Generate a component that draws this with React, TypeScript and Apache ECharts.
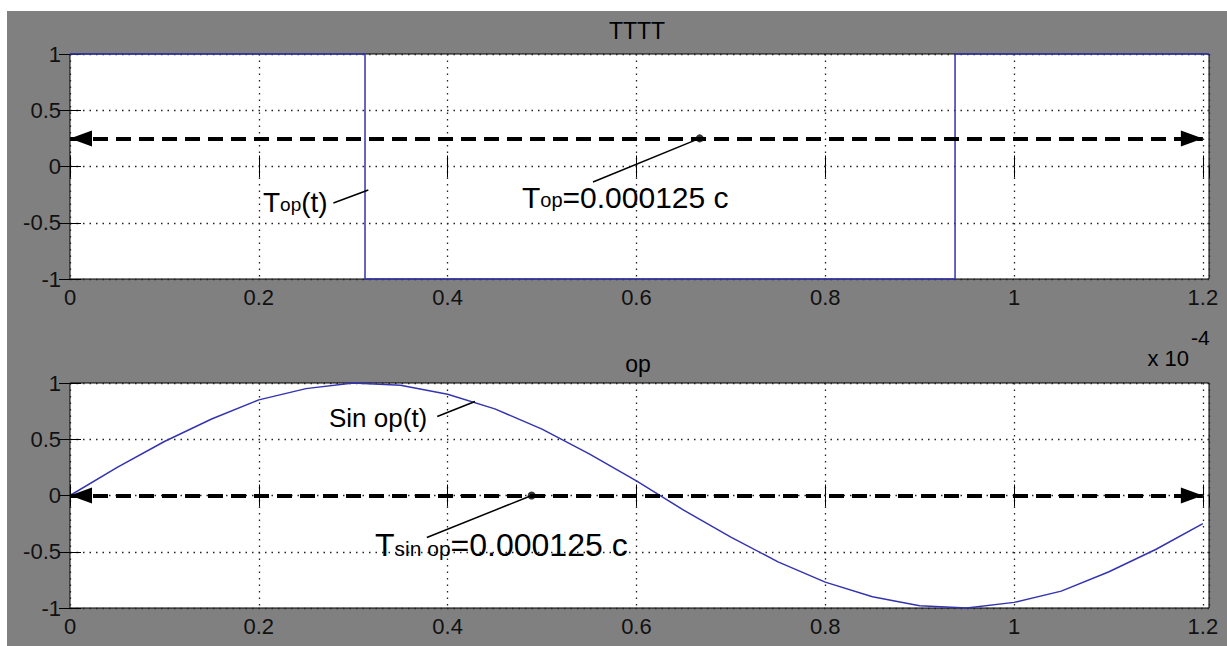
import React, { useEffect, useRef } from "react";
import * as echarts from "echarts";

// ---- data (x in units of 1e-4 s) ----
const squareX = [0, 0.3125, 0.3125, 0.9375, 0.9375, 1.2065];
const squareY = [1, 1, -1, -1, 1, 1];

const sineX = [0, 0.05, 0.1, 0.15, 0.2, 0.25, 0.3, 0.35, 0.4, 0.45, 0.5, 0.55, 0.6, 0.65, 0.7, 0.75, 0.8, 0.85, 0.9, 0.95, 1.0, 1.05, 1.1, 1.15, 1.2];
const sineY = [0, 0.25, 0.48, 0.68, 0.85, 0.95, 1.0, 0.98, 0.9, 0.77, 0.59, 0.37, 0.13, -0.13, -0.37, -0.59, -0.77, -0.9, -0.98, -1.0, -0.95, -0.85, -0.68, -0.48, -0.25];

const xTickLabels = ["0", "0.2", "0.4", "0.6", "0.8", "1", "1.2"];
const yTickLabels = ["-1", "-0.5", "0", "0.5", "1"];

const topArrow = { y: 0.25, from: 0, to: 1.2 };
const bottomArrow = { y: 0, from: 0, to: 1.2 };
const topDot = [0.667, 0.25];
const bottomDot = [0.489, 0];
const topLeader = [[0.667, 0.25], [0.554, -0.138]];
const topLabelLeader = [[0.279, -0.324], [0.316, -0.209]];
const bottomLeader = [[0.489, 0], [0.378, -0.373]];
const sinLeader = [[0.389, 0.702], [0.429, 0.836]];

const titles = ["TTTT", "op"];

const BLUE = "#3434b0";
const FONT = "'Liberation Sans', Arial, sans-serif";
// solid triangular head whose tip sits at the centre of its symbol box
const ARROW_HEAD = "path://M0,-22 M0,0 L8,22 L-8,22 Z";

function fmtX(v: number): string {
  const k = v / 0.2;
  if (Math.abs(k - Math.round(k)) > 1e-6) return "";
  const idx = Math.round(k);
  return xTickLabels[idx] ?? "";
}
function fmtY(v: number): string {
  const idx = Math.round((v + 1) / 0.5);
  return yTickLabels[idx] ?? "";
}

export default function App() {
  const ref = useRef<HTMLDivElement>(null);
  useEffect(() => {
    if (!ref.current) return;
    const chart = echarts.init(ref.current, null, { renderer: "svg" });
    const XMAX = 1.2065;
    const grids = [
      { left: 70, top: 54, width: 1139, height: 225 },
      { left: 70, top: 383, width: 1139, height: 225 },
    ];
    const xAxes: any[] = [];
    const yAxes: any[] = [];
    grids.forEach((_, gi) => {
      xAxes.push({
        type: "value", gridIndex: gi, position: "bottom", min: 0, max: XMAX, interval: 0.2,
        axisLine: { show: false },
        axisTick: { show: true, inside: true, length: 11, lineStyle: { color: "#000", width: 1 } },
        axisLabel: { show: true, formatter: fmtX, color: "#111", fontSize: 22, fontFamily: FONT, margin: 7, showMaxLabel: false },
        splitLine: { show: true, lineStyle: { color: "#222", width: 1.3, type: [1.5, 5] } },
      });
      xAxes.push({
        type: "value", gridIndex: gi, position: "top", min: 0, max: XMAX, interval: 0.2,
        axisLine: { show: false },
        axisTick: { show: true, inside: true, length: 11, lineStyle: { color: "#000", width: 1 } },
        axisLabel: { show: false }, splitLine: { show: false },
      });
      yAxes.push({
        type: "value", gridIndex: gi, position: "left", min: -1, max: 1, interval: 0.5,
        axisLine: { show: false },
        axisTick: { show: true, inside: true, length: 11, lineStyle: { color: "#000", width: 1 } },
        axisLabel: { show: true, formatter: fmtY, color: "#111", fontSize: 22, fontFamily: FONT, margin: 9 },
        splitLine: { show: true, lineStyle: { color: "#222", width: 1.3, type: [1.5, 5] } },
      });
      yAxes.push({
        type: "value", gridIndex: gi, position: "right", min: -1, max: 1, interval: 0.5,
        axisLine: { show: false },
        axisTick: { show: true, inside: true, length: 11, lineStyle: { color: "#000", width: 1 } },
        axisLabel: { show: false }, splitLine: { show: false },
      });
    });

    const arrowLine = (a: { y: number; from: number; to: number }) => ({
      silent: true,
      symbol: [ARROW_HEAD, ARROW_HEAD],
      symbolSize: [16, 44],
      label: { show: false },
      emphasis: { disabled: true },
      lineStyle: { color: "#000", width: 4, type: [15, 8], opacity: 1 },
      itemStyle: { color: "#000" },
      data: [[{ coord: [a.from, a.y] }, { coord: [a.to, a.y] }]],
    });

    const leader = (pts: number[][], xi: number, yi: number) => ({
      type: "line", xAxisIndex: xi, yAxisIndex: yi, data: pts, symbol: "none", silent: true,
      lineStyle: { color: "#000", width: 1.5 }, clip: false,
    });

    const series: any[] = [
      {
        type: "line", xAxisIndex: 0, yAxisIndex: 0, clip: false, symbol: "none",
        data: squareX.map((x, i) => [x, squareY[i]]),
        lineStyle: { color: BLUE, width: 1.5 },
      },
      {
        type: "scatter", xAxisIndex: 0, yAxisIndex: 0, data: [topDot], symbolSize: 8,
        itemStyle: { color: "#000" }, silent: true, markLine: arrowLine(topArrow),
      },
      leader(topLeader, 0, 0),
      leader(topLabelLeader, 0, 0),
      {
        type: "line", xAxisIndex: 2, yAxisIndex: 2, clip: false, symbol: "none",
        data: sineX.map((x, i) => [x, sineY[i]]),
        lineStyle: { color: BLUE, width: 1.5 },
      },
      {
        type: "scatter", xAxisIndex: 2, yAxisIndex: 2, data: [bottomDot], symbolSize: 8,
        itemStyle: { color: "#000" }, silent: true, markLine: arrowLine(bottomArrow),
      },
      leader(bottomLeader, 2, 2),
      leader(sinLeader, 2, 2),
    ];

    const txt = (x: number, y: number, text: string, size: number, align = "left", extra: any = {}) => ({
      type: "text", x, y, z: 50, silent: true,
      style: { text, fill: "#000", font: `${size}px ${FONT}`, align, verticalAlign: "middle", ...extra },
    });

    const richLabel = (x: number, y: number, main: string, sub: string, tail: string, F: number, f: number) => ({
      type: "text", x, y, z: 50, silent: true,
      style: {
        text: `{m|${main}}{s|${sub}}{m|${tail}}`,
        align: "left", verticalAlign: "middle",
        rich: {
          m: { fontSize: F, fontFamily: FONT, fill: "#000", color: "#000" },
          s: { fontSize: f, fontFamily: FONT, fill: "#000", color: "#000", verticalAlign: "bottom", padding: [0, 0, 2, 0] },
        },
      },
    });

    chart.setOption({
      animation: false,
      backgroundColor: "#ffffff",
      grid: grids.map((g) => ({ ...g, show: true, backgroundColor: "#ffffff", borderColor: "#000", borderWidth: 1, containLabel: false })),
      xAxis: xAxes,
      yAxis: yAxes,
      series,
      graphic: [
        { type: "rect", z: -100, silent: true, shape: { x: 7, y: 11, width: 1220, height: 635 }, style: { fill: "#808080" } },
        txt(637, 31, titles[0], 23, "center"),
        txt(638, 364, titles[1], 23, "center"),
        txt(1189, 358, "x 10", 22, "right"),
        txt(1191, 337, "-4", 21, "left"),
        richLabel(263, 202, "T", "op", "(t)", 28, 19),
        richLabel(522, 197, "T", "op", "=0.000125 c", 30, 20),
        txt(329, 418, "Sin op(t)", 26, "left"),
        richLabel(375, 545, "T", "sin op", "=0.000125 c", 32, 21),
      ],
    });
    return () => chart.dispose();
  }, []);
  return <div ref={ref} style={{ position: "fixed", left: 0, top: 0, width: 1227, height: 646 }} />;
}
